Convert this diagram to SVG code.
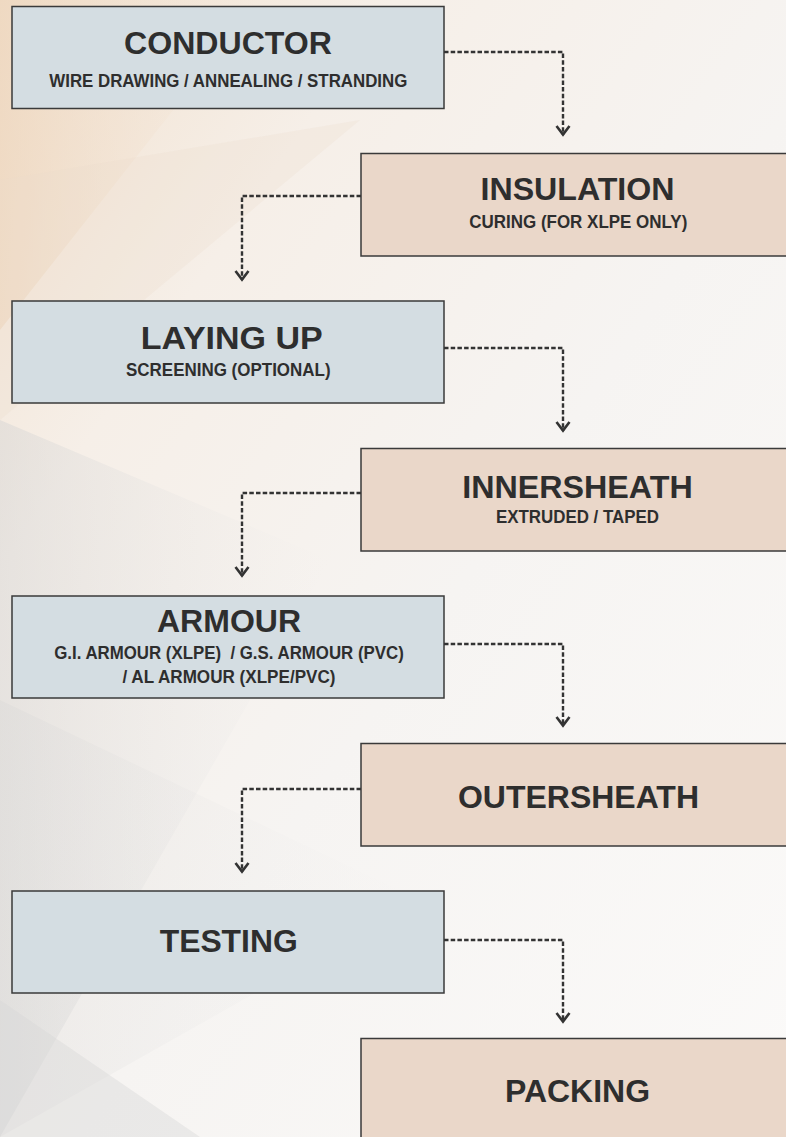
<svg xmlns="http://www.w3.org/2000/svg" width="786" height="1137" viewBox="0 0 786 1137">
<defs>
<linearGradient id="bg" x1="0" y1="0" x2="1" y2="1">
<stop offset="0" stop-color="#f1e0cd"/>
<stop offset="0.25" stop-color="#f6efe8"/>
<stop offset="0.55" stop-color="#f6f4f2"/>
<stop offset="1" stop-color="#fbfaf9"/>
</linearGradient>
<linearGradient id="grey" x1="0" y1="0" x2="1" y2="0">
<stop offset="0" stop-color="#d2d2d2" stop-opacity="0.55"/>
<stop offset="1" stop-color="#e8e8e8" stop-opacity="0"/>
</linearGradient>
<linearGradient id="warm" x1="0" y1="0" x2="1" y2="0">
<stop offset="0" stop-color="#eed6bd" stop-opacity="0.7"/>
<stop offset="1" stop-color="#f4e6d8" stop-opacity="0"/>
</linearGradient>
<marker id="chev" viewBox="0 0 12 16" refX="10.5" refY="8" markerWidth="12" markerHeight="16" markerUnits="userSpaceOnUse" orient="auto">
<path d="M1.5,1.5 L10,8 L1.5,14.5" fill="none" stroke="#333" stroke-width="2.6"/>
</marker>
</defs>
<style>
.lb{fill:#d4dde2;stroke:#3a3a3a;stroke-width:1.5}
.rb{fill:#ead7c9;stroke:#3a3a3a;stroke-width:1.5}
.t{font-family:"Liberation Sans",Arial,sans-serif;font-weight:bold;font-size:31px;fill:#2e2e2e;text-anchor:middle}
.s{font-family:"Liberation Sans",Arial,sans-serif;font-weight:bold;font-size:18.5px;fill:#2e2e2e;text-anchor:middle}
.c{fill:none;stroke:#333;stroke-width:2.4;stroke-dasharray:4.5 2.2}
</style>
<g id="background">
<rect x="0" y="0" width="786" height="1137" fill="url(#bg)"/>
<polygon points="0,0 260,0 0,330" fill="url(#warm)"/>
<polygon points="0,180 360,120 0,420" fill="#eadbcc" opacity="0.25"/>
<polygon points="0,420 330,560 0,1137" fill="url(#grey)" opacity="0.8"/>
<polygon points="0,700 420,900 0,1137" fill="url(#grey)" opacity="0.45"/>
<polygon points="0,1000 200,1137 0,1137" fill="#d6d6d6" opacity="0.4"/>
</g>
<g id="connectors">
<path class="c" d="M444,52 H563 V135" marker-end="url(#chev)"/>
<path class="c" d="M361,196 H242 V280" marker-end="url(#chev)"/>
<path class="c" d="M444,348 H563 V431" marker-end="url(#chev)"/>
<path class="c" d="M361,493 H242 V576" marker-end="url(#chev)"/>
<path class="c" d="M444,644 H563 V726" marker-end="url(#chev)"/>
<path class="c" d="M361,789 H242 V872" marker-end="url(#chev)"/>
<path class="c" d="M444,940 H563 V1022" marker-end="url(#chev)"/>
</g>
<g id="conductor">
<rect class="lb" x="12" y="6.5" width="432" height="102"/>
<text class="t" x="228" y="54" textLength="208" lengthAdjust="spacingAndGlyphs">CONDUCTOR</text>
<text class="s" x="228.3" y="86.5" textLength="358" lengthAdjust="spacingAndGlyphs">WIRE DRAWING / ANNEALING / STRANDING</text>
</g>
<g id="insulation">
<rect class="rb" x="361" y="153.5" width="430" height="102.5"/>
<text class="t" x="577.5" y="200" textLength="194" lengthAdjust="spacingAndGlyphs">INSULATION</text>
<text class="s" x="578.3" y="228.3" textLength="218" lengthAdjust="spacingAndGlyphs">CURING (FOR XLPE ONLY)</text>
</g>
<g id="laying-up">
<rect class="lb" x="12" y="301" width="432" height="102"/>
<text class="t" x="231.7" y="348.5" textLength="182" lengthAdjust="spacingAndGlyphs">LAYING UP</text>
<text class="s" x="228.3" y="376" textLength="204.5" lengthAdjust="spacingAndGlyphs">SCREENING (OPTIONAL)</text>
</g>
<g id="innersheath">
<rect class="rb" x="361" y="448.5" width="430" height="102.5"/>
<text class="t" x="577.5" y="498.3" textLength="230.5" lengthAdjust="spacingAndGlyphs">INNERSHEATH</text>
<text class="s" x="577.5" y="523.3" textLength="163" lengthAdjust="spacingAndGlyphs">EXTRUDED / TAPED</text>
</g>
<g id="armour">
<rect class="lb" x="12" y="596" width="432" height="102"/>
<text class="t" x="229" y="632" textLength="144" lengthAdjust="spacingAndGlyphs">ARMOUR</text>
<text class="s" x="229" y="658.7" textLength="349.5" lengthAdjust="spacingAndGlyphs">G.I. ARMOUR (XLPE)&#160; / G.S. ARMOUR (PVC)</text>
<text class="s" x="229" y="683" textLength="213" lengthAdjust="spacingAndGlyphs">/ AL ARMOUR (XLPE/PVC)</text>
</g>
<g id="outersheath">
<rect class="rb" x="361" y="743.5" width="430" height="102.5"/>
<text class="t" x="578.5" y="807.5" textLength="241" lengthAdjust="spacingAndGlyphs">OUTERSHEATH</text>
</g>
<g id="testing">
<rect class="lb" x="12" y="891" width="432" height="102"/>
<text class="t" x="228.7" y="952.3" textLength="138" lengthAdjust="spacingAndGlyphs">TESTING</text>
</g>
<g id="packing">
<rect class="rb" x="361" y="1038.5" width="430" height="102"/>
<text class="t" x="577.5" y="1101.5" textLength="145" lengthAdjust="spacingAndGlyphs">PACKING</text>
</g>
</svg>
